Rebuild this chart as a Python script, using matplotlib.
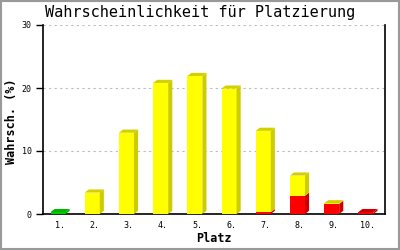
import matplotlib.pyplot as plt
from matplotlib.patches import Polygon, Rectangle

# data
places = ['1.', '2.', '3.', '4.', '5.', '6.', '7.', '8.', '9.', '10.']
green = [0.3, 0, 0, 0, 0, 0, 0, 0, 0, 0]
red = [0, 0, 0, 0, 0, 0, 0.3, 2.9, 1.6, 0.3]
yellow = [0, 3.4, 12.9, 20.8, 21.9, 19.9, 12.9, 3.2, 0.1, 0]

front = {'green': '#00cc00', 'yellow': '#ffff00', 'red': '#ff0000'}
side = {'green': '#00a800', 'yellow': '#cccc00', 'red': '#cc0000'}
top = {'green': '#00b400', 'yellow': '#d4d000', 'red': '#cc0000'}

mono = 'DejaVu Sans Mono'


def draw_bar(ax, x, w, segs, dx, dy):
    base = 0
    last = None
    for name, val in segs:
        if val <= 0:
            continue
        ax.add_patch(Rectangle((x, base), w, val, facecolor=front[name], edgecolor='none', zorder=3))
        ax.add_patch(Polygon([(x + w, base), (x + w + dx, base + dy), (x + w + dx, base + val + dy),
                              (x + w, base + val)], closed=True, facecolor=side[name],
                             edgecolor='none', zorder=3))
        base += val
        last = name
    if last is not None:
        ax.add_patch(Polygon([(x, base), (x + dx, base + dy), (x + w + dx, base + dy), (x + w, base)],
                             closed=True, facecolor=top[last], edgecolor='none', zorder=3))


def main():
    fig = plt.figure(figsize=(4, 2.5), dpi=100)
    fig.patches.append(Rectangle((0.002, 0.004), 0.995, 0.992, transform=fig.transFigure,
                                 fill=False, edgecolor='#999999', linewidth=1.5))
    ax = fig.add_axes([0.1075, 0.144, 0.855, 0.756])

    w = 0.44
    dx, dy = 0.12, 0.5
    for i in range(len(places)):
        x = i + 0.5 - w / 2 - 0.06
        draw_bar(ax, x, w, [('green', green[i]), ('red', red[i]), ('yellow', yellow[i])], dx, dy)

    ax.set_xlim(0, len(places))
    ax.set_ylim(0, 30)
    ax.set_xticks([i + 0.5 for i in range(len(places))])
    ax.set_xticklabels(places, family=mono, fontsize=6)
    ax.set_yticks([0, 10, 20, 30])
    ax.set_yticklabels(['0', '10', '20', '30'], family=mono, fontsize=6)
    ax.tick_params(axis='x', length=0, pad=5)
    ax.tick_params(axis='y', length=5, width=1, pad=3)

    for v in [10, 20, 30]:
        ax.axhline(v, color='#bbbbbb', linestyle=(0, (2, 3)), linewidth=0.8, zorder=1)

    ax.spines['top'].set_visible(False)
    for s in ['left', 'right', 'bottom']:
        ax.spines[s].set_linewidth(1.2)

    ax.set_xlabel('Platz', family=mono, fontsize=8.5, fontweight='bold', va='center')
    ax.xaxis.set_label_coords(0.5, -0.132)
    ax.set_ylabel('Wahrsch. (%)', family=mono, fontsize=8.5, fontweight='bold',
                  va='center', ha='center')
    ax.yaxis.set_label_coords(-0.091, 0.49)
    fig.text(0.5, 0.948, 'Wahrscheinlichkeit für Platzierung', family=mono, fontsize=11,
             ha='center', va='center')

    plt.savefig('out.png', dpi=100)


if __name__ == "__main__":
    main()
